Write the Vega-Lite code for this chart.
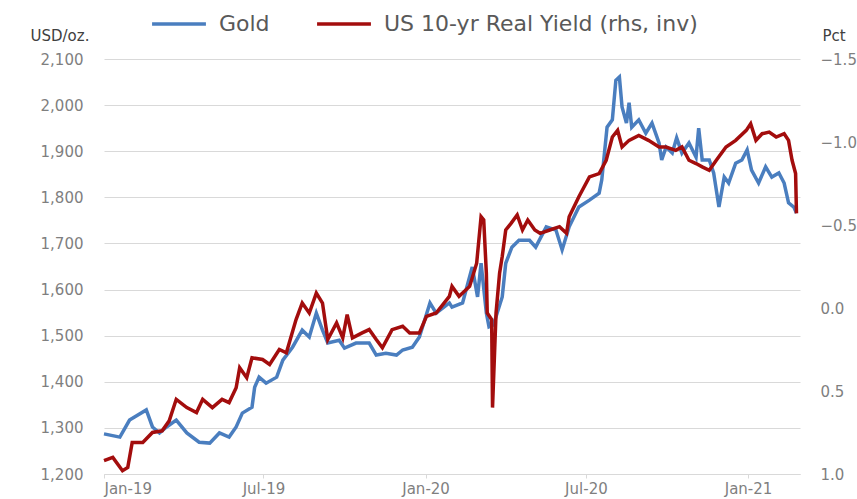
{
  "$schema": "https://vega.github.io/schema/vega-lite/v6.json",
  "width": 696,
  "height": 415,
  "autosize": {"type": "none"},
  "padding": {"left": 104, "top": 59, "right": 57, "bottom": 25},
  "background": "white",
  "config": {
    "view": {"stroke": null},
    "font": "DejaVu Sans",
    "axis": {"labelFont": "DejaVu Sans", "titleFont": "DejaVu Sans"},
    "legend": {"labelFont": "DejaVu Sans"}
  },
  "data": {
    "values": [
      {"d": "2019-01-01", "s": "Gold", "v": 1287},
      {"d": "2019-01-19", "s": "Gold", "v": 1280},
      {"d": "2019-01-30", "s": "Gold", "v": 1317},
      {"d": "2019-02-18", "s": "Gold", "v": 1339},
      {"d": "2019-02-25", "s": "Gold", "v": 1302},
      {"d": "2019-03-05", "s": "Gold", "v": 1289},
      {"d": "2019-03-13", "s": "Gold", "v": 1302},
      {"d": "2019-03-24", "s": "Gold", "v": 1317},
      {"d": "2019-04-05", "s": "Gold", "v": 1289},
      {"d": "2019-04-19", "s": "Gold", "v": 1269},
      {"d": "2019-05-01", "s": "Gold", "v": 1267},
      {"d": "2019-05-12", "s": "Gold", "v": 1289},
      {"d": "2019-05-23", "s": "Gold", "v": 1280},
      {"d": "2019-05-31", "s": "Gold", "v": 1302},
      {"d": "2019-06-07", "s": "Gold", "v": 1332},
      {"d": "2019-06-18", "s": "Gold", "v": 1345},
      {"d": "2019-06-21", "s": "Gold", "v": 1388},
      {"d": "2019-06-26", "s": "Gold", "v": 1410},
      {"d": "2019-07-04", "s": "Gold", "v": 1397},
      {"d": "2019-07-16", "s": "Gold", "v": 1410},
      {"d": "2019-07-23", "s": "Gold", "v": 1447},
      {"d": "2019-08-03", "s": "Gold", "v": 1475},
      {"d": "2019-08-14", "s": "Gold", "v": 1512},
      {"d": "2019-08-22", "s": "Gold", "v": 1497},
      {"d": "2019-08-30", "s": "Gold", "v": 1549},
      {"d": "2019-09-06", "s": "Gold", "v": 1512},
      {"d": "2019-09-12", "s": "Gold", "v": 1484},
      {"d": "2019-09-25", "s": "Gold", "v": 1490},
      {"d": "2019-10-01", "s": "Gold", "v": 1473},
      {"d": "2019-10-14", "s": "Gold", "v": 1484},
      {"d": "2019-10-29", "s": "Gold", "v": 1484},
      {"d": "2019-11-06", "s": "Gold", "v": 1458},
      {"d": "2019-11-17", "s": "Gold", "v": 1462},
      {"d": "2019-11-29", "s": "Gold", "v": 1458},
      {"d": "2019-12-06", "s": "Gold", "v": 1469},
      {"d": "2019-12-17", "s": "Gold", "v": 1475},
      {"d": "2019-12-25", "s": "Gold", "v": 1497},
      {"d": "2020-01-06", "s": "Gold", "v": 1571},
      {"d": "2020-01-13", "s": "Gold", "v": 1549},
      {"d": "2020-01-28", "s": "Gold", "v": 1571},
      {"d": "2020-01-31", "s": "Gold", "v": 1562},
      {"d": "2020-02-12", "s": "Gold", "v": 1571},
      {"d": "2020-02-23", "s": "Gold", "v": 1649},
      {"d": "2020-02-29", "s": "Gold", "v": 1584},
      {"d": "2020-03-04", "s": "Gold", "v": 1657},
      {"d": "2020-03-10", "s": "Gold", "v": 1549},
      {"d": "2020-03-13", "s": "Gold", "v": 1519},
      {"d": "2020-03-18", "s": "Gold", "v": 1523},
      {"d": "2020-03-28", "s": "Gold", "v": 1584},
      {"d": "2020-04-01", "s": "Gold", "v": 1657},
      {"d": "2020-04-08", "s": "Gold", "v": 1692},
      {"d": "2020-04-16", "s": "Gold", "v": 1707},
      {"d": "2020-04-28", "s": "Gold", "v": 1707},
      {"d": "2020-05-05", "s": "Gold", "v": 1692},
      {"d": "2020-05-17", "s": "Gold", "v": 1736},
      {"d": "2020-05-28", "s": "Gold", "v": 1729},
      {"d": "2020-06-04", "s": "Gold", "v": 1686},
      {"d": "2020-06-12", "s": "Gold", "v": 1736},
      {"d": "2020-06-23", "s": "Gold", "v": 1779},
      {"d": "2020-07-05", "s": "Gold", "v": 1794},
      {"d": "2020-07-16", "s": "Gold", "v": 1809},
      {"d": "2020-07-19", "s": "Gold", "v": 1838},
      {"d": "2020-07-25", "s": "Gold", "v": 1952},
      {"d": "2020-07-31", "s": "Gold", "v": 1968},
      {"d": "2020-08-04", "s": "Gold", "v": 2054},
      {"d": "2020-08-08", "s": "Gold", "v": 2061},
      {"d": "2020-08-11", "s": "Gold", "v": 1996},
      {"d": "2020-08-16", "s": "Gold", "v": 1961},
      {"d": "2020-08-19", "s": "Gold", "v": 2005},
      {"d": "2020-08-22", "s": "Gold", "v": 1952},
      {"d": "2020-08-30", "s": "Gold", "v": 1968},
      {"d": "2020-09-07", "s": "Gold", "v": 1939},
      {"d": "2020-09-14", "s": "Gold", "v": 1961},
      {"d": "2020-09-22", "s": "Gold", "v": 1918},
      {"d": "2020-09-25", "s": "Gold", "v": 1881},
      {"d": "2020-09-30", "s": "Gold", "v": 1909},
      {"d": "2020-10-07", "s": "Gold", "v": 1896},
      {"d": "2020-10-12", "s": "Gold", "v": 1929},
      {"d": "2020-10-18", "s": "Gold", "v": 1896},
      {"d": "2020-10-26", "s": "Gold", "v": 1918},
      {"d": "2020-11-03", "s": "Gold", "v": 1887},
      {"d": "2020-11-06", "s": "Gold", "v": 1950},
      {"d": "2020-11-10", "s": "Gold", "v": 1881},
      {"d": "2020-11-18", "s": "Gold", "v": 1881},
      {"d": "2020-11-23", "s": "Gold", "v": 1853},
      {"d": "2020-11-29", "s": "Gold", "v": 1779},
      {"d": "2020-12-05", "s": "Gold", "v": 1844},
      {"d": "2020-12-10", "s": "Gold", "v": 1831},
      {"d": "2020-12-18", "s": "Gold", "v": 1874},
      {"d": "2020-12-25", "s": "Gold", "v": 1881},
      {"d": "2020-12-31", "s": "Gold", "v": 1903},
      {"d": "2021-01-05", "s": "Gold", "v": 1859},
      {"d": "2021-01-13", "s": "Gold", "v": 1831},
      {"d": "2021-01-21", "s": "Gold", "v": 1866},
      {"d": "2021-01-28", "s": "Gold", "v": 1844},
      {"d": "2021-02-05", "s": "Gold", "v": 1853},
      {"d": "2021-02-11", "s": "Gold", "v": 1831},
      {"d": "2021-02-16", "s": "Gold", "v": 1788},
      {"d": "2021-02-22", "s": "Gold", "v": 1779},
      {"d": "2021-02-25", "s": "Gold", "v": 1766},

      {"d": "2019-01-01", "s": "US 10-yr Real Yield (rhs, inv)", "v": 0.92},
      {"d": "2019-01-11", "s": "US 10-yr Real Yield (rhs, inv)", "v": 0.90},
      {"d": "2019-01-22", "s": "US 10-yr Real Yield (rhs, inv)", "v": 0.98},
      {"d": "2019-01-28", "s": "US 10-yr Real Yield (rhs, inv)", "v": 0.96},
      {"d": "2019-02-02", "s": "US 10-yr Real Yield (rhs, inv)", "v": 0.81},
      {"d": "2019-02-14", "s": "US 10-yr Real Yield (rhs, inv)", "v": 0.81},
      {"d": "2019-02-25", "s": "US 10-yr Real Yield (rhs, inv)", "v": 0.75},
      {"d": "2019-03-08", "s": "US 10-yr Real Yield (rhs, inv)", "v": 0.74},
      {"d": "2019-03-16", "s": "US 10-yr Real Yield (rhs, inv)", "v": 0.68},
      {"d": "2019-03-24", "s": "US 10-yr Real Yield (rhs, inv)", "v": 0.55},
      {"d": "2019-04-05", "s": "US 10-yr Real Yield (rhs, inv)", "v": 0.60},
      {"d": "2019-04-16", "s": "US 10-yr Real Yield (rhs, inv)", "v": 0.63},
      {"d": "2019-04-23", "s": "US 10-yr Real Yield (rhs, inv)", "v": 0.55},
      {"d": "2019-05-04", "s": "US 10-yr Real Yield (rhs, inv)", "v": 0.60},
      {"d": "2019-05-15", "s": "US 10-yr Real Yield (rhs, inv)", "v": 0.55},
      {"d": "2019-05-23", "s": "US 10-yr Real Yield (rhs, inv)", "v": 0.57},
      {"d": "2019-05-31", "s": "US 10-yr Real Yield (rhs, inv)", "v": 0.48},
      {"d": "2019-06-04", "s": "US 10-yr Real Yield (rhs, inv)", "v": 0.36},
      {"d": "2019-06-12", "s": "US 10-yr Real Yield (rhs, inv)", "v": 0.42},
      {"d": "2019-06-18", "s": "US 10-yr Real Yield (rhs, inv)", "v": 0.30},
      {"d": "2019-06-30", "s": "US 10-yr Real Yield (rhs, inv)", "v": 0.31},
      {"d": "2019-07-08", "s": "US 10-yr Real Yield (rhs, inv)", "v": 0.34},
      {"d": "2019-07-19", "s": "US 10-yr Real Yield (rhs, inv)", "v": 0.25},
      {"d": "2019-07-27", "s": "US 10-yr Real Yield (rhs, inv)", "v": 0.27},
      {"d": "2019-08-07", "s": "US 10-yr Real Yield (rhs, inv)", "v": 0.07},
      {"d": "2019-08-14", "s": "US 10-yr Real Yield (rhs, inv)", "v": -0.03},
      {"d": "2019-08-22", "s": "US 10-yr Real Yield (rhs, inv)", "v": 0.03},
      {"d": "2019-08-30", "s": "US 10-yr Real Yield (rhs, inv)", "v": -0.09},
      {"d": "2019-09-06", "s": "US 10-yr Real Yield (rhs, inv)", "v": -0.03},
      {"d": "2019-09-12", "s": "US 10-yr Real Yield (rhs, inv)", "v": 0.19},
      {"d": "2019-09-22", "s": "US 10-yr Real Yield (rhs, inv)", "v": 0.09},
      {"d": "2019-09-29", "s": "US 10-yr Real Yield (rhs, inv)", "v": 0.18},
      {"d": "2019-10-04", "s": "US 10-yr Real Yield (rhs, inv)", "v": 0.04},
      {"d": "2019-10-10", "s": "US 10-yr Real Yield (rhs, inv)", "v": 0.18},
      {"d": "2019-10-21", "s": "US 10-yr Real Yield (rhs, inv)", "v": 0.15},
      {"d": "2019-10-29", "s": "US 10-yr Real Yield (rhs, inv)", "v": 0.13},
      {"d": "2019-11-06", "s": "US 10-yr Real Yield (rhs, inv)", "v": 0.19},
      {"d": "2019-11-13", "s": "US 10-yr Real Yield (rhs, inv)", "v": 0.24},
      {"d": "2019-11-24", "s": "US 10-yr Real Yield (rhs, inv)", "v": 0.13},
      {"d": "2019-12-06", "s": "US 10-yr Real Yield (rhs, inv)", "v": 0.11},
      {"d": "2019-12-14", "s": "US 10-yr Real Yield (rhs, inv)", "v": 0.15},
      {"d": "2019-12-25", "s": "US 10-yr Real Yield (rhs, inv)", "v": 0.15},
      {"d": "2020-01-02", "s": "US 10-yr Real Yield (rhs, inv)", "v": 0.05},
      {"d": "2020-01-13", "s": "US 10-yr Real Yield (rhs, inv)", "v": 0.03},
      {"d": "2020-01-28", "s": "US 10-yr Real Yield (rhs, inv)", "v": -0.07},
      {"d": "2020-01-31", "s": "US 10-yr Real Yield (rhs, inv)", "v": -0.13},
      {"d": "2020-02-08", "s": "US 10-yr Real Yield (rhs, inv)", "v": -0.07},
      {"d": "2020-02-20", "s": "US 10-yr Real Yield (rhs, inv)", "v": -0.13},
      {"d": "2020-02-28", "s": "US 10-yr Real Yield (rhs, inv)", "v": -0.27},
      {"d": "2020-03-04", "s": "US 10-yr Real Yield (rhs, inv)", "v": -0.55},
      {"d": "2020-03-07", "s": "US 10-yr Real Yield (rhs, inv)", "v": -0.53},
      {"d": "2020-03-10", "s": "US 10-yr Real Yield (rhs, inv)", "v": -0.21},
      {"d": "2020-03-11", "s": "US 10-yr Real Yield (rhs, inv)", "v": 0.03},
      {"d": "2020-03-16", "s": "US 10-yr Real Yield (rhs, inv)", "v": 0.07},
      {"d": "2020-03-17", "s": "US 10-yr Real Yield (rhs, inv)", "v": 0.60},
      {"d": "2020-03-21", "s": "US 10-yr Real Yield (rhs, inv)", "v": 0.03},
      {"d": "2020-03-25", "s": "US 10-yr Real Yield (rhs, inv)", "v": -0.21},
      {"d": "2020-03-28", "s": "US 10-yr Real Yield (rhs, inv)", "v": -0.31},
      {"d": "2020-04-01", "s": "US 10-yr Real Yield (rhs, inv)", "v": -0.47},
      {"d": "2020-04-07", "s": "US 10-yr Real Yield (rhs, inv)", "v": -0.51},
      {"d": "2020-04-14", "s": "US 10-yr Real Yield (rhs, inv)", "v": -0.56},
      {"d": "2020-04-20", "s": "US 10-yr Real Yield (rhs, inv)", "v": -0.47},
      {"d": "2020-04-26", "s": "US 10-yr Real Yield (rhs, inv)", "v": -0.53},
      {"d": "2020-05-04", "s": "US 10-yr Real Yield (rhs, inv)", "v": -0.47},
      {"d": "2020-05-10", "s": "US 10-yr Real Yield (rhs, inv)", "v": -0.45},
      {"d": "2020-05-21", "s": "US 10-yr Real Yield (rhs, inv)", "v": -0.47},
      {"d": "2020-06-01", "s": "US 10-yr Real Yield (rhs, inv)", "v": -0.49},
      {"d": "2020-06-09", "s": "US 10-yr Real Yield (rhs, inv)", "v": -0.45},
      {"d": "2020-06-12", "s": "US 10-yr Real Yield (rhs, inv)", "v": -0.55},
      {"d": "2020-06-23", "s": "US 10-yr Real Yield (rhs, inv)", "v": -0.67},
      {"d": "2020-07-05", "s": "US 10-yr Real Yield (rhs, inv)", "v": -0.79},
      {"d": "2020-07-16", "s": "US 10-yr Real Yield (rhs, inv)", "v": -0.81},
      {"d": "2020-07-24", "s": "US 10-yr Real Yield (rhs, inv)", "v": -0.89},
      {"d": "2020-07-31", "s": "US 10-yr Real Yield (rhs, inv)", "v": -1.03},
      {"d": "2020-08-06", "s": "US 10-yr Real Yield (rhs, inv)", "v": -1.07},
      {"d": "2020-08-11", "s": "US 10-yr Real Yield (rhs, inv)", "v": -0.97},
      {"d": "2020-08-19", "s": "US 10-yr Real Yield (rhs, inv)", "v": -1.01},
      {"d": "2020-08-30", "s": "US 10-yr Real Yield (rhs, inv)", "v": -1.04},
      {"d": "2020-09-10", "s": "US 10-yr Real Yield (rhs, inv)", "v": -1.01},
      {"d": "2020-09-22", "s": "US 10-yr Real Yield (rhs, inv)", "v": -0.97},
      {"d": "2020-09-30", "s": "US 10-yr Real Yield (rhs, inv)", "v": -0.97},
      {"d": "2020-10-11", "s": "US 10-yr Real Yield (rhs, inv)", "v": -0.95},
      {"d": "2020-10-18", "s": "US 10-yr Real Yield (rhs, inv)", "v": -0.97},
      {"d": "2020-10-26", "s": "US 10-yr Real Yield (rhs, inv)", "v": -0.89},
      {"d": "2020-11-03", "s": "US 10-yr Real Yield (rhs, inv)", "v": -0.87},
      {"d": "2020-11-10", "s": "US 10-yr Real Yield (rhs, inv)", "v": -0.85},
      {"d": "2020-11-18", "s": "US 10-yr Real Yield (rhs, inv)", "v": -0.83},
      {"d": "2020-11-26", "s": "US 10-yr Real Yield (rhs, inv)", "v": -0.89},
      {"d": "2020-12-07", "s": "US 10-yr Real Yield (rhs, inv)", "v": -0.97},
      {"d": "2020-12-18", "s": "US 10-yr Real Yield (rhs, inv)", "v": -1.01},
      {"d": "2020-12-30", "s": "US 10-yr Real Yield (rhs, inv)", "v": -1.07},
      {"d": "2021-01-04", "s": "US 10-yr Real Yield (rhs, inv)", "v": -1.11},
      {"d": "2021-01-10", "s": "US 10-yr Real Yield (rhs, inv)", "v": -1.01},
      {"d": "2021-01-17", "s": "US 10-yr Real Yield (rhs, inv)", "v": -1.05},
      {"d": "2021-01-25", "s": "US 10-yr Real Yield (rhs, inv)", "v": -1.06},
      {"d": "2021-02-02", "s": "US 10-yr Real Yield (rhs, inv)", "v": -1.03},
      {"d": "2021-02-11", "s": "US 10-yr Real Yield (rhs, inv)", "v": -1.05},
      {"d": "2021-02-16", "s": "US 10-yr Real Yield (rhs, inv)", "v": -1.01},
      {"d": "2021-02-20", "s": "US 10-yr Real Yield (rhs, inv)", "v": -0.89},
      {"d": "2021-02-24", "s": "US 10-yr Real Yield (rhs, inv)", "v": -0.81},
      {"d": "2021-02-25", "s": "US 10-yr Real Yield (rhs, inv)", "v": -0.57}
    ]
  },
  "encoding": {
    "x": {
      "field": "d",
      "type": "temporal",
      "scale": {"type": "utc", "domain": [{"year": 2019, "month": 1, "date": 1, "utc": true}, {"year": 2021, "month": 3, "date": 1, "utc": true}]},
      "axis": {
        "title": null,
        "format": "%b-%y",
        "values": [
          {"year": 2019, "month": 1, "date": 1, "utc": true},
          {"year": 2019, "month": 7, "date": 1, "utc": true},
          {"year": 2020, "month": 1, "date": 1, "utc": true},
          {"year": 2020, "month": 7, "date": 1, "utc": true},
          {"year": 2021, "month": 1, "date": 1, "utc": true}
        ],
        "grid": false,
        "domainColor": "#d9d9d9",
        "tickColor": "#d9d9d9",
        "tickSize": 4,
        "labelPadding": 3,
        "labelFontSize": 15,
        "labelColor": "#7f7f7f"
      }
    },
    "color": {
      "field": "s",
      "type": "nominal",
      "scale": {"domain": ["Gold", "US 10-yr Real Yield (rhs, inv)"], "range": ["#4a7ebf", "#a30d0d"]},
      "legend": {
        "title": null,
        "orient": "none",
        "direction": "horizontal",
        "legendX": 46,
        "legendY": -64,
        "symbolType": "stroke",
        "symbolSize": 2900,
        "symbolStrokeWidth": 3.5,
        "labelFontSize": 22,
        "labelColor": "#595959",
        "labelOffset": 11,
        "columnPadding": 40,
        "labelLimit": 500
      }
    }
  },
  "layer": [
    {
      "transform": [{"filter": "datum.s === 'Gold'"}],
      "mark": {"type": "line", "strokeWidth": 3.5},
      "encoding": {
        "y": {
          "field": "v",
          "type": "quantitative",
          "scale": {"domain": [1200, 2100], "zero": false, "nice": false},
          "axis": {
            "title": "USD/oz.",
            "titleAngle": 0,
            "titleAlign": "left",
            "titleBaseline": "middle",
            "titleX": -74,
            "titleY": -24,
            "titleFontSize": 15,
            "titleFontWeight": "normal",
            "titleColor": "#404040",
            "values": [1200, 1300, 1400, 1500, 1600, 1700, 1800, 1900, 2000, 2100],
            "format": ",.0f",
            "domain": false,
            "ticks": false,
            "labelPadding": 21,
            "labelFontSize": 15,
            "labelColor": "#7f7f7f",
            "gridColor": "#d9d9d9",
            "grid": true
          }
        }
      }
    },
    {
      "transform": [{"filter": "datum.s !== 'Gold'"}],
      "mark": {"type": "line", "strokeWidth": 3.5},
      "encoding": {
        "y": {
          "field": "v",
          "type": "quantitative",
          "scale": {"domain": [-1.5, 1.0], "reverse": true, "zero": false, "nice": false},
          "axis": {
            "orient": "right",
            "title": "Pct",
            "titleAngle": 0,
            "titleAlign": "left",
            "titleBaseline": "middle",
            "titleX": 22,
            "titleY": -24,
            "titleFontSize": 15,
            "titleFontWeight": "normal",
            "titleColor": "#404040",
            "values": [-1.5, -1.0, -0.5, 0.0, 0.5, 1.0],
            "format": ".1f",
            "domain": false,
            "ticks": false,
            "grid": false,
            "labelPadding": 20,
            "labelFontSize": 15,
            "labelColor": "#7f7f7f"
          }
        }
      }
    }
  ],
  "resolve": {"scale": {"y": "independent"}}
}
